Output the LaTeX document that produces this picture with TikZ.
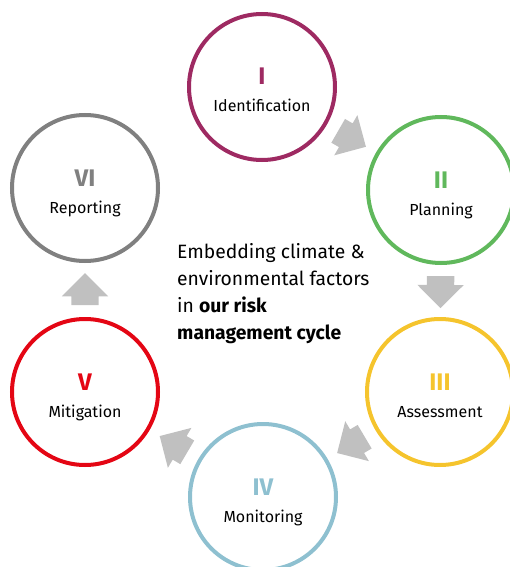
\documentclass[tikz,border=0pt]{standalone}
\usepackage{fontspec}
\setmainfont{Fira Sans}
\usetikzlibrary{shapes.arrows}
\definecolor{identcol}{RGB}{158,42,98}
\definecolor{plancol}{RGB}{96,184,92}
\definecolor{assesscol}{RGB}{245,196,45}
\definecolor{monitcol}{RGB}{142,192,208}
\definecolor{mitigcol}{RGB}{228,6,20}
\definecolor{reportcol}{RGB}{128,128,128}
\definecolor{flowgray}{RGB}{192,192,192}

\begin{document}
\begin{tikzpicture}
[
x=1pt,y=-1pt,
stage/.style={draw=#1,circle,line width=4pt,minimum size=146pt,inner sep=0pt},
numeral/.style={text=#1,anchor=base,font=\fontsize{24}{24}\selectfont\bfseries},
caption/.style={text=black,anchor=base,font=\fontsize{16}{16}\selectfont},
flow/.style={single arrow,fill=flowgray,draw=none,inner xsep=0pt,inner ysep=13.5pt,
            minimum height=32pt,minimum width=46pt,single arrow head extend=9.5pt,
            pos=0.39,sloped,allow upside down},
]
\useasboundingbox (0,0) rectangle (510,567);
\clip (0,0) rectangle (510,567);

%Place the circles
\node[stage=identcol] (ident) at (262,87) {};
\node[stage=plancol] (plan) at (441,190) {};
\node[stage=assesscol] (assess) at (440,392) {};
\node[stage=monitcol] (monit) at (263,497) {};
\node[stage=mitigcol] (mitig) at (85,392) {};
\node[stage=reportcol] (report) at (85,188) {};

%Numerals and captions
\node[numeral=identcol] (identnum) at ([yshift=2pt]ident.center) {I};
\node[caption] (identtxt) at ([yshift=-25pt]ident.center) {Identification};
\node[numeral=plancol] (plannum) at ([yshift=2pt]plan.center) {II};
\node[caption] (plantxt) at ([yshift=-25pt]plan.center) {Planning};
\node[numeral=assesscol] (assessnum) at ([yshift=2pt]assess.center) {III};
\node[caption] (assesstxt) at ([yshift=-25pt]assess.center) {Assessment};
\node[numeral=monitcol] (monitnum) at ([yshift=2pt]monit.center) {IV};
\node[caption] (monittxt) at ([yshift=-25pt]monit.center) {Monitoring};
\node[numeral=mitigcol] (mitignum) at ([yshift=2pt]mitig.center) {V};
\node[caption] (mitigtxt) at ([yshift=-25pt]mitig.center) {Mitigation};
\node[numeral=reportcol] (reportnum) at ([yshift=2pt]report.center) {VI};
\node[caption] (reporttxt) at ([yshift=-25pt]report.center) {Reporting};

%Centre text
\node[anchor=north west,align=left,inner sep=0pt,
      font=\fontsize{19.3}{27}\selectfont] (cycle) at (177,243)
      {Embedding climate \&\\environmental factors\\in \textbf{our risk}\\\textbf{management cycle}};

%Draw the arrows
\path (ident) -- node[flow] (flowa) {} (plan);
\path (plan) -- node[flow] (flowb) {} (assess);
\path (assess) -- node[flow] (flowc) {} (monit);
\path (monit) -- node[flow] (flowd) {} (mitig);
\path (mitig) -- node[flow] (flowe) {} (report);
\end{tikzpicture}
\end{document}
